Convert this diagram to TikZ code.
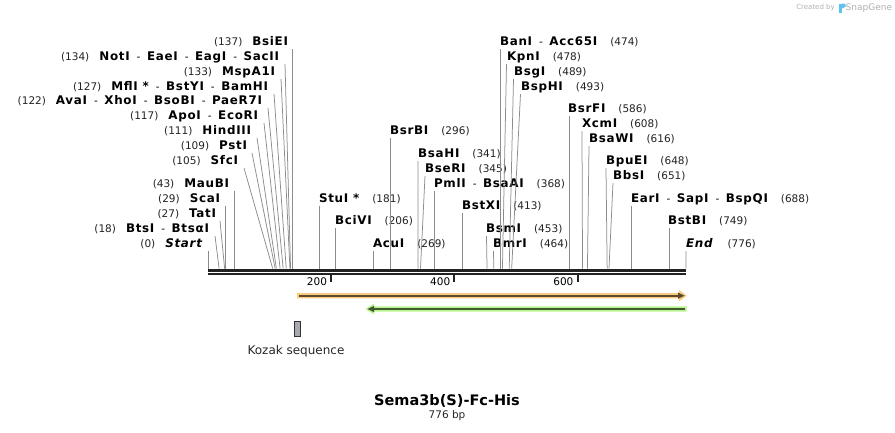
\documentclass[tikz,border=0pt]{standalone}
\usepackage{fontspec}
\setmainfont{DejaVu Sans}
\newfontfamily\enzfam{DejaVu Sans}[LetterSpace=6]
\definecolor{cutgray}{HTML}{8C8C8C}
\definecolor{numcol}{HTML}{222222}
\definecolor{mapcol}{HTML}{222222}
\definecolor{orangeband}{HTML}{F9CA7F}
\definecolor{orangeline}{HTML}{5C4A2E}
\definecolor{greenband}{HTML}{B9F28E}
\definecolor{greenline}{HTML}{3E5A2E}
\definecolor{kozakfill}{HTML}{A6A9AF}
\definecolor{wmgray}{HTML}{B0B0B0}
\definecolor{wmblue}{HTML}{5FC3F0}
\newcommand\enzname[1]{{\enzfam\bfseries\fontsize{11.9}{13}\selectfont #1}}
\newcommand\enzit[1]{{\enzfam\bfseries\itshape\fontsize{11.9}{13}\selectfont #1}}
\newcommand\enzpos[1]{{\fontsize{10.5}{12}\selectfont\color{numcol}#1}}
\newcommand\enzsep{{\fontsize{10.5}{12}\selectfont\hspace{7pt}-\hspace{6.5pt}}}
\tikzset{
  lft/.style={anchor=east,inner sep=0pt,outer sep=0pt},
  rgt/.style={anchor=west,inner sep=0pt,outer sep=0pt},
  cut/.style={draw=cutgray,line width=0.75pt},
  maprule/.style={draw=mapcol,line width=2.4pt},
  tick/.style={draw=mapcol,line width=2pt},
  ticklbl/.style={anchor=east,inner sep=0pt,font=\fontsize{10.5}{12}\selectfont},
}
\begin{document}
\begin{tikzpicture}[x=1pt,y=-1pt]
\useasboundingbox (0,0) rectangle (895,432);
% watermark
\node[anchor=east,inner sep=0pt,text=wmgray,font=\fontsize{7}{8}\selectfont] (wm1) at (835,8) {Created by};
\fill[wmblue] (838.5,3.5) rectangle (842,13);
\fill[wmblue] (842,3.5) -- (845,3.5) .. controls (846.5,5) and (846.5,7) .. (842,8.5) -- cycle;
\node[anchor=west,inner sep=0pt,text=wmgray,font=\fontsize{9}{10}\selectfont] (wm2) at (845.5,8) {SnapGene};

% map
\coordinate (m0a) at (208,270.5); \coordinate (m1a) at (686,270.5);
\coordinate (m0b) at (208,274); \coordinate (m1b) at (686,274);
\draw[maprule] (m0a) -- (m1a);
\draw[maprule] (m0b) -- (m1b);
\foreach \p/\lab in {200/200,400/400,600/600}{
  \coordinate (tk\p) at ({208+\p*0.61598},273);
  \coordinate (tb\p) at ({208+\p*0.61598},281.5);
  \draw[tick] (tk\p) -- (tb\p);
  \node[ticklbl] (tl\p) at ({208+\p*0.61598-4},281.5) {\lab};
}

% sites on map
\foreach \s in {0,18,27,29,43,105,109,111,117,122,127,133,134,137,181,206,269,296,341,345,368,413,453,464,474,478,489,493,586,608,616,648,651,688,749,776}{
  \coordinate (s\s) at ({208+\s*0.61598},268.5);
}

% left labels
\node[lft] (l137) at (288,42) {\enzpos{(137)}\hspace{10pt}\enzname{BsiEI}};
\node[lft] (l134) at (279,57) {\enzpos{(134)}\hspace{10pt}\enzname{NotI}\enzsep\enzname{EaeI}\enzsep\enzname{EagI}\enzsep\enzname{SacII}};
\node[lft] (l133) at (275,72) {\enzpos{(133)}\hspace{10pt}\enzname{MspA1I}};
\node[lft] (l127) at (268,87) {\enzpos{(127)}\hspace{10pt}\enzname{MflI\ *}\enzsep\enzname{BstYI}\enzsep\enzname{BamHI}};
\node[lft] (l122) at (262,101) {\enzpos{(122)}\hspace{10pt}\enzname{AvaI}\enzsep\enzname{XhoI}\enzsep\enzname{BsoBI}\enzsep\enzname{PaeR7I}};
\node[lft] (l117) at (258,116) {\enzpos{(117)}\hspace{10pt}\enzname{ApoI}\enzsep\enzname{EcoRI}};
\node[lft] (l111) at (251,131) {\enzpos{(111)}\hspace{10pt}\enzname{HindIII}};
\node[lft] (l109) at (247,146) {\enzpos{(109)}\hspace{10pt}\enzname{PstI}};
\node[lft] (l105) at (238,161) {\enzpos{(105)}\hspace{10pt}\enzname{SfcI}};
\node[lft] (l43) at (229,184) {\enzpos{(43)}\hspace{10pt}\enzname{MauBI}};
\node[lft] (l29) at (220,199) {\enzpos{(29)}\hspace{10pt}\enzname{ScaI}};
\node[lft] (l27) at (216,214) {\enzpos{(27)}\hspace{10pt}\enzname{TatI}};
\node[lft] (l18) at (209,229) {\enzpos{(18)}\hspace{10pt}\enzname{BtsI}\enzsep\enzname{BtsαI}};
\node[lft] (l0) at (202,244) {\enzpos{(0)}\hspace{10pt}\enzit{Start}};

\coordinate (t137) at ({208+137*0.61598},49);
\coordinate (t134) at (285,64);
\coordinate (t133) at (281,79);
\coordinate (t127) at (274,94);
\coordinate (t122) at (268,108);
\coordinate (t117) at (264,123);
\coordinate (t111) at (257,138);
\coordinate (t109) at (252,153);
\coordinate (t105) at (244,168);
\coordinate (t43) at ({208+43*0.61598},191);
\coordinate (t29) at ({208+29*0.61598},206);
\coordinate (t27) at (220,221);
\coordinate (t18) at (215,236);
\coordinate (t0) at (208,251);

% right labels
\node[rgt] (r474) at (500,42) {\enzname{BanI}\enzsep\enzname{Acc65I}\hspace{13pt}\enzpos{(474)}};
\node[rgt] (r478) at (507,57) {\enzname{KpnI}\hspace{13pt}\enzpos{(478)}};
\node[rgt] (r489) at (514,72) {\enzname{BsgI}\hspace{13pt}\enzpos{(489)}};
\node[rgt] (r493) at (521,87) {\enzname{BspHI}\hspace{13pt}\enzpos{(493)}};
\node[rgt] (r586) at (568,109) {\enzname{BsrFI}\hspace{13pt}\enzpos{(586)}};
\node[rgt] (r608) at (582,124) {\enzname{XcmI}\hspace{13pt}\enzpos{(608)}};
\node[rgt] (r616) at (589,139) {\enzname{BsaWI}\hspace{13pt}\enzpos{(616)}};
\node[rgt] (r648) at (606,161) {\enzname{BpuEI}\hspace{13pt}\enzpos{(648)}};
\node[rgt] (r651) at (613,176) {\enzname{BbsI}\hspace{13pt}\enzpos{(651)}};
\node[rgt] (r688) at (631,199) {\enzname{EarI}\enzsep\enzname{SapI}\enzsep\enzname{BspQI}\hspace{13pt}\enzpos{(688)}};
\node[rgt] (r749) at (668,221) {\enzname{BstBI}\hspace{13pt}\enzpos{(749)}};
\node[rgt] (r776) at (686,244) {\enzit{End}\hspace{15pt}\enzpos{(776)}};
\node[rgt] (r296) at (390,131) {\enzname{BsrBI}\hspace{13pt}\enzpos{(296)}};
\node[rgt] (r341) at (418,154) {\enzname{BsaHI}\hspace{13pt}\enzpos{(341)}};
\node[rgt] (r345) at (425,169) {\enzname{BseRI}\hspace{13pt}\enzpos{(345)}};
\node[rgt] (r368) at (434,184) {\enzname{PmlI}\enzsep\enzname{BsaAI}\hspace{13pt}\enzpos{(368)}};
\node[rgt] (r181) at (319,199) {\enzname{StuI\ *}\hspace{13pt}\enzpos{(181)}};
\node[rgt] (r413) at (462,206) {\enzname{BstXI}\hspace{13pt}\enzpos{(413)}};
\node[rgt] (r206) at (335,221) {\enzname{BciVI}\hspace{13pt}\enzpos{(206)}};
\node[rgt] (r453) at (486,229) {\enzname{BsmI}\hspace{13pt}\enzpos{(453)}};
\node[rgt] (r269) at (373,244) {\enzname{AcuI}\hspace{13pt}\enzpos{(269)}};
\node[rgt] (r464) at (493,244) {\enzname{BmrI}\hspace{13pt}\enzpos{(464)}};

\coordinate (t474) at ({208+474*0.61598},49);
\coordinate (t478) at (506.5,64);
\coordinate (t489) at (513.5,79);
\coordinate (t493) at (520.5,94);
\coordinate (t586) at ({208+586*0.61598},116);
\coordinate (t608) at (582,131);
\coordinate (t616) at (589,146);
\coordinate (t648) at (606,168);
\coordinate (t651) at (613,183);
\coordinate (t688) at ({208+688*0.61598},206);
\coordinate (t749) at ({208+749*0.61598},228);
\coordinate (t776) at (686,251);
\coordinate (t296) at ({208+296*0.61598},138);
\coordinate (t341) at (418,161);
\coordinate (t345) at (425,176);
\coordinate (t368) at ({208+368*0.61598},191);
\coordinate (t181) at ({208+181*0.61598},206);
\coordinate (t413) at ({208+413*0.61598},213);
\coordinate (t206) at ({208+206*0.61598},228);
\coordinate (t453) at (486.5,236);
\coordinate (t269) at ({208+269*0.61598},251);
\coordinate (t464) at (493.5,251);

\foreach \s in {0,18,27,29,43,105,109,111,117,122,127,133,134,137,181,206,269,296,341,345,368,413,453,464,474,478,489,493,586,608,616,648,651,688,749,776}{
  \draw[cut] (t\s) -- (s\s);
}

% features
\coordinate (oa) at (297,295.7); \coordinate (ob) at (686.8,295.7);
\fill[orangeband] (297,293) -- (679,293) -- (679,290) -- (ob) -- (679,301.4) -- (679,298.4) -- (297,298.4) -- cycle;
\draw[orangeline,line width=2pt] (299,295.7) -- (680,295.7);
\fill[orangeline] (678,292.6) -- (684.5,295.7) -- (678,298.8) -- cycle;

\coordinate (ga) at (686.5,309); \coordinate (gb) at (365.5,309);
\fill[greenband] (686.5,306.3) -- (374,306.3) -- (374,303.6) -- (gb) -- (374,314.4) -- (374,311.7) -- (686.5,311.7) -- cycle;
\draw[greenline,line width=2pt] (684.5,309) -- (372,309);
\fill[greenline] (374,305.9) -- (367.5,309) -- (374,312.1) -- cycle;

\node[draw=black!80,fill=kozakfill,line width=1pt,minimum width=5.5pt,minimum height=15.5pt,inner sep=0pt] (kozak) at (297.3,329) {};
\node[font=\fontsize{12}{14}\selectfont,text=black!85] (kozaklbl) at (296,351) {Kozak sequence};

\node[font=\bfseries\fontsize{14.5}{16}\selectfont] (title) at (447,401) {Sema3b(S)-Fc-His};
\node[font=\fontsize{10.5}{12}\selectfont,text=black!85] (bp) at (447,416) {776 bp};
\end{tikzpicture}
\end{document}
